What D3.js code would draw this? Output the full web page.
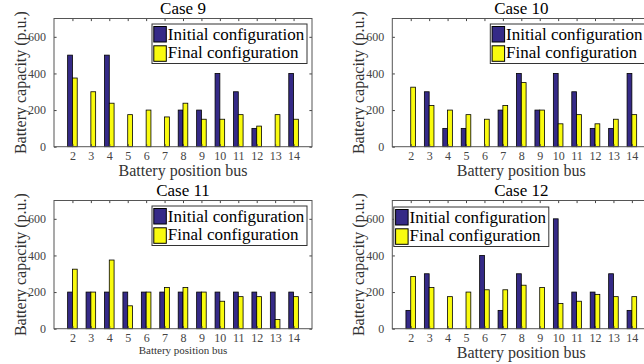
<!DOCTYPE html>
<html>
<head>
<meta charset="utf-8">
<script src="https://cdn.jsdelivr.net/npm/d3@7"></script>
<style>
  body { margin: 0; background: #fff; }
</style>
</head>
<body>
<div id="chart"></div>
<script>
// Data
var buses = [2, 3, 4, 5, 6, 7, 8, 9, 10, 11, 12, 13, 14];
var yTicks = [0, 200, 400, 600];
var seriesNames = ["Initial configuration", "Final configuration"];
var caseTitles = ["Case 9", "Case 10", "Case 11", "Case 12"];

var case9Initial = [500, 0, 500, 0, 0, 0, 200, 200, 400, 300, 100, 0, 400];
var case9Final = [375, 300, 237.5, 175, 200, 162.5, 237.5, 150, 150, 175, 112.5, 175, 150];
var case10Initial = [0, 300, 100, 100, 0, 200, 400, 200, 400, 300, 100, 100, 400];
var case10Final = [325, 225, 200, 175, 150, 225, 350, 200, 125, 175, 125, 150, 175];
var case11Initial = [200, 200, 200, 200, 200, 200, 200, 200, 200, 200, 200, 200, 200];
var case11Final = [325, 200, 375, 125, 200, 225, 225, 200, 150, 175, 175, 50, 175];
var case12Initial = [100, 300, 0, 0, 400, 100, 300, 0, 600, 200, 200, 300, 100];
var case12Final = [285, 225, 175, 200, 212.5, 212.5, 237.5, 225, 137.5, 150, 187.5, 175, 175];

var colors = ["#352a87", "#f9fb0e"];

var svgWidth = 644;
var svgHeight = 364;
var plotW = 258;
var plotH = 128.2;
var serif = "'Liberation Serif'";

// layout of the 4 panels (position only)
var panels = [
  { left: 54, top: 18.5, initial: case9Initial, final: case9Final, legend: "ne", xlabelSize: 16 },
  { left: 392.3, top: 18.5, initial: case10Initial, final: case10Final, legend: "ne", xlabelSize: 16 },
  { left: 54, top: 200.5, initial: case11Initial, final: case11Final, legend: "ne", xlabelSize: 11 },
  { left: 392.3, top: 200.5, initial: case12Initial, final: case12Final, legend: "nw", xlabelSize: 16 }
];

var svg = d3.select("#chart")
  .append("svg")
  .attr("width", svgWidth)
  .attr("height", svgHeight)
  .attr("font-family", serif);

var xScale = d3.scaleLinear().domain([1, 15]).range([0, plotW]);
var yScale = d3.scaleLinear().domain([0, 700]).range([plotH, 0]);
var step = xScale(2) - xScale(1);
var barW = step * 0.26;

function styleAxis(a) {
  a.select(".domain").remove();
  a.attr("font-family", serif).attr("font-size", 12);
  a.selectAll(".tick text").attr("fill", "#444");
  a.selectAll(".tick line").attr("stroke", "#444");
}

panels.forEach(function(p, i) {
  var g = svg.append("g")
    .attr("transform", `translate(${p.left}, ${p.top})`);

  // bars
  var rows = buses.map(function(b, j) {
    return { bus: b, values: [p.initial[j], p.final[j]] };
  });

  var groups = g.selectAll(".grp")
    .data(rows)
    .enter()
    .append("g")
    .attr("transform", d => `translate(${xScale(d.bus)}, 0)`);

  groups.selectAll("rect")
    .data(d => d.values)
    .enter()
    .append("rect")
    .attr("x", (d, k) => k === 0 ? -barW : 0)
    .attr("y", d => yScale(d))
    .attr("width", barW)
    .attr("height", d => yScale(0) - yScale(d))
    .attr("fill", (d, k) => colors[k])
    .attr("stroke", "#000")
    .attr("stroke-width", 0.8);

  // axes, ticks inside on every side
  g.append("g")
    .attr("transform", `translate(0, ${plotH})`)
    .call(d3.axisBottom(xScale).tickValues(buses).tickSize(-2.6).tickSizeOuter(0).tickPadding(5))
    .call(styleAxis);
  g.append("g")
    .call(d3.axisTop(xScale).tickValues(buses).tickSize(-2.6).tickSizeOuter(0).tickFormat(""))
    .call(styleAxis);
  g.append("g")
    .call(d3.axisLeft(yScale).tickValues(yTicks).tickSize(-2.6).tickSizeOuter(0).tickPadding(8))
    .call(styleAxis);
  g.append("g")
    .attr("transform", `translate(${plotW}, 0)`)
    .call(d3.axisRight(yScale).tickValues(yTicks).tickSize(-2.6).tickSizeOuter(0).tickFormat(""))
    .call(styleAxis);

  g.append("rect")
    .attr("width", plotW)
    .attr("height", plotH)
    .attr("fill", "none")
    .attr("stroke", "#555")
    .attr("stroke-width", 1);

  // title and labels
  g.append("text")
    .attr("x", plotW / 2)
    .attr("y", -4.5)
    .attr("text-anchor", "middle")
    .attr("font-family", serif)
    .attr("font-size", 17)
    .attr("fill", "#000")
    .text(caseTitles[i]);

  g.append("text")
    .attr("x", plotW / 2)
    .attr("y", p.xlabelSize > 12 ? plotH + 29 : plotH + 25)
    .attr("text-anchor", "middle")
    .attr("font-family", serif)
    .attr("font-size", p.xlabelSize)
    .attr("fill", "#333")
    .text("Battery position bus");

  g.append("text")
    .attr("transform", "rotate(-90)")
    .attr("x", -plotH / 2)
    .attr("y", -28)
    .attr("text-anchor", "middle")
    .attr("font-family", serif)
    .attr("font-size", 16)
    .attr("fill", "#333")
    .text("Battery capacity (p.u.)");

  // legend
  var legW = 155;
  var legH = 39.5;
  var lx = p.legend === "ne" ? plotW - legW - 5 : 1.5;
  var ly = p.legend === "ne" ? 5.5 : 6.5;
  var leg = g.append("g").attr("transform", `translate(${lx}, ${ly})`);
  leg.append("rect")
    .attr("width", legW)
    .attr("height", legH)
    .attr("fill", "#fff")
    .attr("stroke", "#333")
    .attr("stroke-width", 1);
  seriesNames.forEach(function(name, k) {
    leg.append("rect")
      .attr("x", 1.8)
      .attr("y", 2.5 + k * 19.3)
      .attr("width", 12.5)
      .attr("height", 15.5)
      .attr("fill", colors[k])
      .attr("stroke", "#000")
      .attr("stroke-width", 1);
    leg.append("text")
      .attr("x", 15.8)
      .attr("y", 15.5 + k * 18.5)
      .attr("font-family", serif)
      .attr("font-size", 17)
      .attr("fill", "#000")
      .text(name);
  });
});
</script>
</body>
</html>
